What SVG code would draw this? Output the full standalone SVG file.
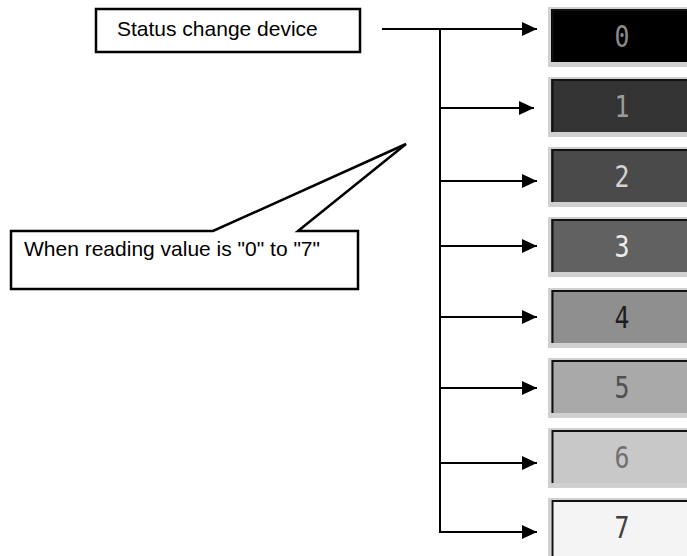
<svg xmlns="http://www.w3.org/2000/svg" width="687" height="556" viewBox="0 0 687 556">
<defs>
<style>
.lbl{font-family:"Liberation Sans",Arial,sans-serif;font-size:21px;fill:#000}
.box{fill:#fff;stroke:#000;stroke-width:2.5}
.ln{stroke:#000;stroke-width:2;fill:none}
.frame{fill:#d0d0d0}
.edge{stroke:#111;fill:none}
.dig{font-family:"DejaVu Sans Mono",monospace;font-size:31px;text-anchor:middle}
</style>
<marker id="ah" markerWidth="16" markerHeight="14" refX="15" refY="7" orient="auto" markerUnits="userSpaceOnUse">
<path d="M0,0 L15,7 L0,14 Z" fill="#000"/>
</marker>
</defs>
<rect width="687" height="556" fill="#fff"/>
<g id="status-device">
<rect class="box" x="96" y="9" width="264" height="43"/>
<text class="lbl" x="117" y="36">Status change device</text>
</g>
<g id="callout">
<path class="box" d="M11,231 L213,231 L406,144 L298,231 L358,231 L358,289 L11,289 Z"/>
<text class="lbl" x="24" y="256">When reading value is "0" to "7"</text>
</g>
<g id="connectors">
<line class="ln" x1="382" y1="29" x2="537" y2="29" marker-end="url(#ah)"/>
<line class="ln" x1="440" y1="29" x2="440" y2="533"/>
<line class="ln" x1="439" y1="108" x2="534" y2="108" marker-end="url(#ah)"/>
<line class="ln" x1="439" y1="181" x2="537" y2="181" marker-end="url(#ah)"/>
<line class="ln" x1="439" y1="246" x2="537" y2="246" marker-end="url(#ah)"/>
<line class="ln" x1="439" y1="317" x2="537" y2="317" marker-end="url(#ah)"/>
<line class="ln" x1="439" y1="388" x2="537" y2="388" marker-end="url(#ah)"/>
<line class="ln" x1="439" y1="463" x2="537" y2="463" marker-end="url(#ah)"/>
<line class="ln" x1="439" y1="532" x2="537" y2="532" marker-end="url(#ah)"/>
</g>
<g id="value-0">
<rect class="frame" x="548" y="7" width="150" height="60"/>
<rect x="551" y="9" width="140" height="53" fill="#000"/>
<path class="edge" d="M552.5,62 V10 H690" stroke-width="2"/>
<text class="dig" x="622" y="47" fill="#8a8a8a" transform="translate(622 0) scale(0.8 1) translate(-622 0)">0</text>
</g>
<g id="value-1">
<rect class="frame" x="548" y="77" width="150" height="60"/>
<rect x="551" y="79" width="140" height="53" fill="#333"/>
<path class="edge" d="M552.5,132 V80 H690" stroke-width="2"/>
<text class="dig" x="622" y="117" fill="#9c9c9c" transform="translate(622 0) scale(0.8 1) translate(-622 0)">1</text>
</g>
<g id="value-2">
<rect class="frame" x="548" y="147" width="150" height="60"/>
<rect x="551" y="149" width="140" height="53" fill="#4a4a4a"/>
<path class="edge" d="M552.5,202 V150 H690" stroke-width="2"/>
<text class="dig" x="622" y="187" fill="#d4d4d4" transform="translate(622 0) scale(0.8 1) translate(-622 0)">2</text>
</g>
<g id="value-3">
<rect class="frame" x="548" y="217" width="150" height="60"/>
<rect x="551" y="219" width="140" height="53" fill="#616161"/>
<path class="edge" d="M552.5,272 V220 H690" stroke-width="2"/>
<text class="dig" x="622" y="257" fill="#ececec" transform="translate(622 0) scale(0.8 1) translate(-622 0)">3</text>
</g>
<g id="value-4">
<rect class="frame" x="548" y="288" width="150" height="60"/>
<rect x="551" y="290" width="140" height="53" fill="#8f8f8f"/>
<path class="edge" d="M552.5,343 V291 H690" stroke-width="2"/>
<text class="dig" x="622" y="328" fill="#1e1e1e" transform="translate(622 0) scale(0.8 1) translate(-622 0)">4</text>
</g>
<g id="value-5">
<rect class="frame" x="548" y="358" width="150" height="60"/>
<rect x="551" y="360" width="140" height="53" fill="#a9a9a9"/>
<path class="edge" d="M552.5,413 V361 H690" stroke-width="2"/>
<text class="dig" x="622" y="398" fill="#505050" transform="translate(622 0) scale(0.8 1) translate(-622 0)">5</text>
</g>
<g id="value-6">
<rect class="frame" x="548" y="428" width="150" height="60"/>
<rect x="551" y="430" width="140" height="53" fill="#c8c8c8"/>
<path class="edge" d="M552.5,483 V431 H690" stroke-width="2"/>
<text class="dig" x="622" y="468" fill="#707070" transform="translate(622 0) scale(0.8 1) translate(-622 0)">6</text>
</g>
<g id="value-7">
<rect class="frame" x="548" y="498" width="150" height="60"/>
<rect x="551" y="500" width="140" height="58" fill="#f4f4f4"/>
<path class="edge" d="M552.5,558 V501 H690" stroke-width="2"/>
<text class="dig" x="622" y="538" fill="#404040" transform="translate(622 0) scale(0.8 1) translate(-622 0)">7</text>
</g>
</svg>
